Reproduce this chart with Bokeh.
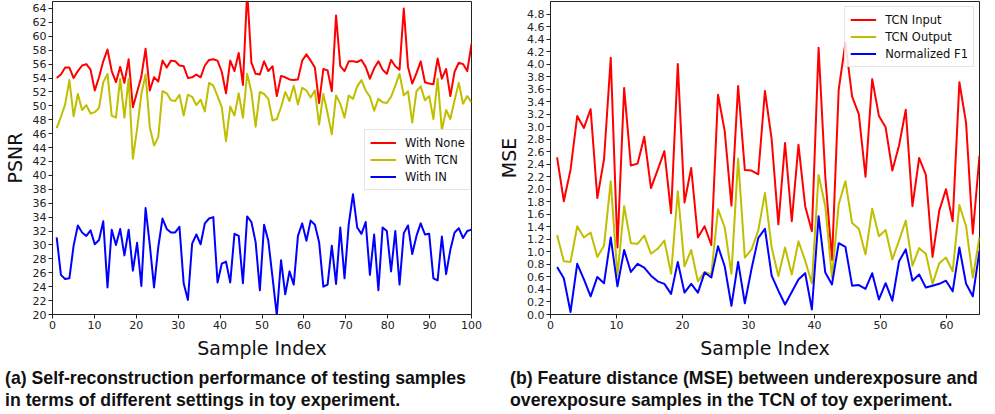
import numpy as np
from bokeh.plotting import figure
from bokeh.layouts import column, row
from bokeh.models import Div, FixedTicker, PrintfTickFormatter, Legend, LegendItem, Range1d
from bokeh.embed import file_html
from bokeh.resources import INLINE

# ---------------- data: panel (a) ----------------
sample_a = np.linspace(1, 100, 99)
psnr_none = [54.0, 54.5, 55.5, 55.5, 54.0, 55.0, 55.8, 56.0, 55.2, 52.2,
             54.1, 56.4, 58.1, 55.0, 53.4, 55.6, 53.3, 56.7, 49.8, 52.0,
             54.2, 58.2, 52.2, 54.1, 53.5, 56.5, 55.5, 56.5, 56.4, 55.8,
             55.7, 54.0, 54.1, 54.5, 54.1, 55.8, 56.6, 56.7, 56.5, 54.9,
             51.8, 56.5, 55.0, 57.6, 53.0, 66.5,
             56.2, 54.6, 54.5, 56.4, 55.0, 55.7, 51.4, 54.3, 54.1, 53.8,
             53.7, 53.8, 56.5, 57.4, 56.5, 55.5, 50.4, 55.3, 55.1, 52.1,
             63.0, 55.7, 55.0, 56.4, 56.4, 56.3, 56.6, 55.6, 53.9, 55.4,
             56.4, 55.2, 54.6, 56.6, 55.7, 55.2, 64.0, 55.6, 53.2, 54.7,
             56.4, 53.4, 53.2, 53.1, 56.8, 53.9, 55.3, 51.4, 54.9, 56.2,
             56.0, 55.0, 58.9]
psnr_tcn = [46.8, 48.4, 50.2, 53.7, 48.5, 51.7, 49.4, 50.1, 48.9, 49.1,
            49.7, 53.4, 54.6, 48.6, 48.3, 53.9, 48.3, 53.9, 42.4, 46.7,
            51.7, 54.5, 46.9, 44.3, 45.5, 52.1, 51.8, 50.8, 50.7, 51.6,
            48.6, 51.6, 51.3, 50.1, 50.9, 49.2, 53.3, 52.9, 51.4, 49.8,
            44.9, 49.9, 48.6, 51.8, 48.3, 54.6,
            52.0, 47.0, 52.0, 51.7, 51.0, 47.9, 48.1, 49.8, 52.0, 50.7,
            52.9, 50.2, 52.6, 52.2, 51.2, 52.2, 47.3, 51.7, 48.9, 45.9,
            51.5, 50.3, 48.3, 51.5, 51.0, 52.8, 53.7, 52.2, 51.3, 49.3,
            51.0, 50.5, 50.4, 51.3, 52.9, 54.6, 51.5, 52.1, 47.6, 52.1,
            52.8, 50.8, 51.4, 48.1, 53.9, 46.5, 49.4, 48.1, 50.8, 53.3,
            50.3, 51.4, 50.5]
psnr_in = [31.1, 25.7, 25.1, 25.2, 29.9, 32.8, 31.8, 31.3, 32.1, 30.1,
           30.7, 33.4, 23.9, 32.2, 30.0, 32.3, 28.5, 32.2, 26.3, 30.3,
           24.1, 35.3, 30.0, 23.9, 29.7, 33.8, 32.3, 31.8, 31.8, 32.6,
           24.5, 22.1, 30.2, 31.5, 30.1, 33.1, 33.8, 34.0, 24.6, 27.3,
           27.6, 24.6, 31.6, 31.3, 24.5, 34.1,
           33.3, 30.4, 23.5, 32.9, 30.6, 25.3, 19.9, 27.8, 22.9, 26.2,
           24.3, 31.3, 33.1, 30.6, 33.5, 32.9, 30.4, 24.0, 24.3, 29.9,
           24.4, 32.5, 25.2, 33.0, 37.3, 32.5, 31.6, 33.3, 25.7, 31.5,
           23.5, 32.5, 32.0, 26.2, 32.0, 24.3, 31.7, 32.8, 28.7, 31.3,
           33.1, 31.5, 31.6, 25.2, 24.9, 31.2, 25.8, 29.3, 31.8, 32.4,
           31.0, 32.0, 32.2]
psnr_ticks = [20, 22, 24, 26, 28, 30, 32, 34, 36, 38, 40, 42, 44, 46, 48, 50,
              52, 54, 56, 58, 60, 62, 64]
sample_a_ticks = [0, 10, 20, 30, 40, 50, 60, 70, 80, 90, 100]

# ---------------- data: panel (b) ----------------
sample_b = np.linspace(1, 65, 64)
mse_input = [2.51, 1.81, 2.31, 3.17, 2.98, 3.28, 1.86, 2.48, 4.10, 1.07,
             3.62, 2.38, 2.41, 2.84, 2.02, 2.31, 2.61, 1.62, 4.00, 1.79,
             2.34, 1.23, 1.41, 1.11, 3.51, 2.93, 1.74, 3.65, 2.31, 2.30,
             2.24, 3.57, 2.80, 1.44, 2.74, 1.49, 2.71, 1.73, 1.33, 4.26,
             2.20, 0.87, 3.59, 4.34, 3.48, 3.20, 2.20, 3.76, 3.17, 2.99,
             2.30, 2.70, 3.27, 1.73, 2.50, 2.23, 0.92, 1.66, 2.00, 1.49,
             3.71, 3.06, 1.29, 2.54]
mse_output = [1.27, 0.85, 0.84, 1.41, 1.23, 1.31, 0.92, 1.10, 2.13, 0.62,
              1.73, 1.14, 1.13, 1.26, 0.97, 1.05, 1.18, 0.65, 1.97, 0.77,
              1.03, 0.53, 0.68, 0.64, 1.68, 1.39, 0.65, 2.49, 0.91, 1.04,
              1.34, 1.94, 1.07, 0.61, 1.07, 0.64, 1.17, 0.86, 0.50, 2.23,
              1.73, 0.59, 1.76, 2.13, 1.46, 1.37, 0.96, 1.69, 1.25, 1.35,
              0.88, 1.18, 1.50, 0.78, 1.06, 0.97, 0.49, 0.82, 0.91, 0.69,
              1.75, 1.41, 0.59, 1.23]
mse_f1 = [0.76, 0.58, 0.04, 0.81, 0.56, 0.29, 0.60, 0.50, 1.23, 0.45,
          1.03, 0.68, 0.81, 0.75, 0.62, 0.53, 0.49, 0.33, 0.84, 0.35,
          0.49, 0.35, 0.67, 0.59, 1.09, 0.77, 0.14, 0.84, 0.18, 0.73,
          1.22, 1.37, 0.62, 0.38, 0.16, 0.36, 0.56, 0.66, 0.08, 1.57,
          0.67, 0.48, 1.14, 1.08, 0.46, 0.47, 0.41, 0.66, 0.24, 0.50,
          0.22, 0.85, 1.04, 0.54, 0.64, 0.43, 0.46, 0.49, 0.54, 0.37,
          1.07, 0.49, 0.29, 1.02]
mse_ticks = [0.0, 0.2, 0.4, 0.6, 0.8, 1.0, 1.2, 1.4, 1.6, 1.8, 2.0, 2.2, 2.4,
             2.6, 2.8, 3.0, 3.2, 3.4, 3.6, 3.8, 4.0, 4.2, 4.4, 4.6, 4.8]
sample_b_ticks = [0, 10, 20, 30, 40, 50, 60]

RED = "#ff0000"
OLIVE = "#bfbf00"
BLUE = "#0000ff"
TICK_FONT = "DejaVu Sans"


def style(p, xticks, yticks):
    p.outline_line_color = "#222222"
    p.outline_line_width = 1
    p.xgrid.visible = False
    p.ygrid.visible = False
    for ax in (p.xaxis[0], p.yaxis[0]):
        ax.axis_line_color = "#222222"
        ax.major_tick_line_color = "#222222"
        ax.major_tick_out = 4
        ax.major_tick_in = 0
        ax.minor_tick_line_color = None
        ax.major_label_text_font = TICK_FONT
        ax.major_label_text_font_size = "11px"
        ax.major_label_text_color = "#222222"
        ax.major_label_standoff = 2
        ax.axis_label_text_font = TICK_FONT
        ax.axis_label_text_font_size = "19px"
        ax.axis_label_text_font_style = "normal"
        ax.axis_label_text_color = "#111111"
    p.xaxis[0].ticker = FixedTicker(ticks=xticks)
    p.yaxis[0].ticker = FixedTicker(ticks=yticks)
    p.xaxis[0].axis_label_standoff = 5
    p.yaxis[0].axis_label_standoff = 4


def make_legend(items, location, margin):
    lg = Legend(items=items, location=location)
    lg.label_text_font = TICK_FONT
    lg.label_text_font_size = "11.5px"
    lg.label_text_color = "#111111"
    lg.glyph_width = 26
    lg.glyph_height = 15
    lg.label_height = 15
    lg.label_standoff = 9
    lg.spacing = 2
    lg.padding = 5
    lg.margin = margin
    lg.border_line_color = "#cccccc"
    lg.background_fill_alpha = 0.85
    return lg


# ---------------- panel (a) ----------------
pa = figure(width=495, height=367, output_backend="svg", toolbar_location=None,
            x_range=Range1d(0, 100), y_range=Range1d(20, 65),
            min_border_left=52, min_border_right=24, min_border_top=1,
            min_border_bottom=53, x_axis_label="Sample Index", y_axis_label="PSNR")
style(pa, sample_a_ticks, psnr_ticks)
ra1 = pa.line(sample_a, psnr_none, line_color=RED, line_width=2, line_join="round")
ra2 = pa.line(sample_a, psnr_tcn, line_color=OLIVE, line_width=2, line_join="round")
ra3 = pa.line(sample_a, psnr_in, line_color=BLUE, line_width=2, line_join="round")
pa.add_layout(make_legend([LegendItem(label="With None", renderers=[ra1]),
                           LegendItem(label="With TCN", renderers=[ra2]),
                           LegendItem(label="With IN", renderers=[ra3])], (312, 124), 0))

# ---------------- panel (b) ----------------
pb = figure(width=492, height=367, output_backend="svg", toolbar_location=None,
            x_range=Range1d(0, 65), y_range=Range1d(0, 5.0),
            min_border_left=54, min_border_right=8, min_border_top=1,
            min_border_bottom=53, x_axis_label="Sample Index", y_axis_label="MSE")
style(pb, sample_b_ticks, mse_ticks)
pb.yaxis[0].formatter = PrintfTickFormatter(format="%.1f")
rb1 = pb.line(sample_b, mse_input, line_color=RED, line_width=2, line_join="round")
rb2 = pb.line(sample_b, mse_output, line_color=OLIVE, line_width=2, line_join="round")
rb3 = pb.line(sample_b, mse_f1, line_color=BLUE, line_width=2, line_join="round")
pb.add_layout(make_legend([LegendItem(label="TCN Input", renderers=[rb1]),
                           LegendItem(label="TCN Output", renderers=[rb2]),
                           LegendItem(label="Normalized F1", renderers=[rb3])], "top_right", 5))

CAP = ('<div style="font-family: \'Liberation Sans\', sans-serif; '
       'font-weight: bold; font-size: 17.7px; line-height: 22px; color: #111; '
       'white-space: nowrap; margin-top: -5px;">{}</div>')
cap_a = Div(text=CAP.format("(a) Self-reconstruction performance of testing samples<br>"
                            "in terms of different settings in toy experiment."),
            width=495, height=40)
cap_b = Div(text=CAP.format("(b) Feature distance (MSE) between underexposure and<br>"
                            "overexposure samples in the TCN of toy experiment."),
            width=492, height=40)

layout = column(row(pa, pb), row(cap_a, cap_b))
open("out.html", "w").write(file_html(layout, INLINE))
